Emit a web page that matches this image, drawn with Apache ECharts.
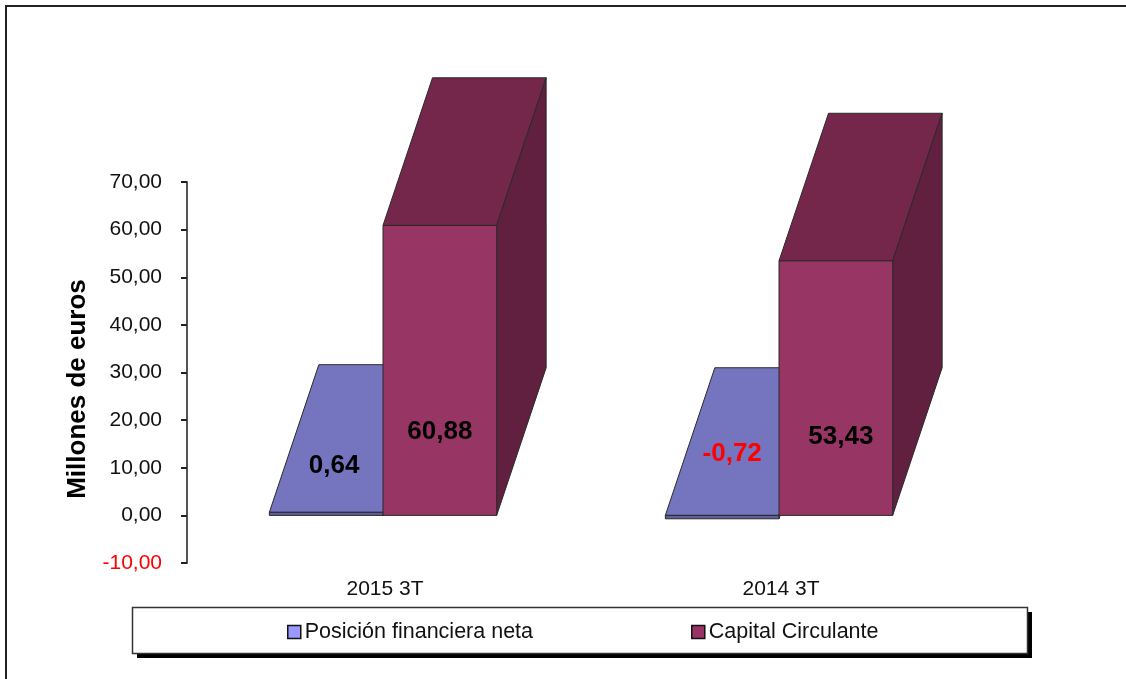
<!DOCTYPE html>
<html>
<head>
<meta charset="utf-8">
<title>Millones de euros</title>
<script src="https://cdn.jsdelivr.net/npm/echarts@6/dist/echarts.min.js"></script>
<style>
  html, body { margin: 0; padding: 0; background: #fff; }
  #chart { width: 1126px; height: 679px; }
</style>
</head>
<body>
<div id="chart"></div>
<script>
// datos
const categories = ["2015 3T", "2014 3T"];
const posicionNeta = [0.64, -0.72];
const capitalCirculante = [60.88, 53.43];
const seriesNames = ["Posición financiera neta", "Capital Circulante"];
const yTicks = { min: -10, max: 70, step: 10 };

// colores: frente, tapa, lateral
const bluePalette = { front: "#5F5F9F", top: "#7575BF", side: "#5C5C9E", legend: "#9999FF" };
const wine = { front: "#973564", top: "#74274B", side: "#61203F", legend: "#993366" };
const edge = "#2a2a2a";
const font = "'Liberation Sans', Arial, sans-serif";

// profundidad del efecto 3D
const depthX = 0.125; // fraccion de la banda
const depthY = 31; // en unidades del eje
const barFrac = 0.287;
const centerShift = -2;

// donde colocar las etiquetas (a mano, como en el original): altura en el eje y desplazamiento en px
const labelHeightBlue = [10.5, 13];
const labelHeightWine = [17.6, 16.4];
const labelShiftBlue = [8, 10];
const labelShiftWine = [0, 5];

function fmt(v) {
  return v.toFixed(2).replace(".", ",");
}

function bar3d(palette, side, heights, shifts) {
  return function (params, api) {
    const i = api.value(0);
    const v = api.value(1);
    const band = api.size([1, 0])[0];
    const w = band * barFrac;
    const c = api.coord([i, 0]);
    const x0 = c[0] + centerShift + (side < 0 ? -w : 0);
    const x1 = x0 + w;
    const zeroY = c[1];
    const valY = api.coord([i, v])[1];
    const topY = Math.min(zeroY, valY);
    const botY = Math.max(zeroY, valY);
    const dx = band * depthX;
    const dy = api.size([0, depthY])[1];
    const line = { stroke: edge, lineWidth: 1 };
    const labelPos = api.coord([i, heights[i]]);
    return {
      type: "group",
      children: [
        {
          type: "polygon",
          shape: { points: [[x0, topY], [x0 + dx, topY - dy], [x1 + dx, topY - dy], [x1, topY]] },
          style: Object.assign({ fill: palette.top }, line)
        },
        {
          type: "polygon",
          shape: { points: [[x1, topY], [x1 + dx, topY - dy], [x1 + dx, botY - dy], [x1, botY]] },
          style: Object.assign({ fill: palette.side }, line)
        },
        {
          type: "rect",
          shape: { x: x0, y: topY, width: w, height: botY - topY },
          style: Object.assign({ fill: palette.front }, line)
        },
        {
          type: "text",
          z2: 10,
          style: {
            x: x0 + w / 2 + shifts[i],
            y: labelPos[1],
            text: fmt(v),
            fill: v < 0 ? "#FF0000" : "#000",
            font: "bold 26px " + font,
            align: "center",
            verticalAlign: "middle"
          }
        }
      ]
    };
  };
}

const chart = echarts.init(document.getElementById("chart"));
chart.setOption({
  animation: false,
  backgroundColor: "#fff",
  textStyle: { fontFamily: font },
  graphic: [
    {
      type: "polyline",
      silent: true,
      shape: { points: [[6, 679], [6, 6], [1126, 6]] },
      style: { stroke: "#222", lineWidth: 2, fill: null }
    },
    // caja de la leyenda con su sombra
    {
      type: "rect",
      silent: true,
      shape: { x: 137, y: 612, width: 895, height: 46 },
      style: { fill: "#000" }
    },
    {
      type: "rect",
      silent: true,
      shape: { x: 132.5, y: 607.5, width: 895, height: 46 },
      style: { fill: "#fff", stroke: "#333", lineWidth: 1.5 }
    }
  ],
  legend: {
    left: 287,
    top: 621,
    icon: "rect",
    orient: "horizontal",
    itemWidth: 13,
    itemHeight: 13,
    itemGap: 158,
    padding: 0,
    textStyle: { fontFamily: font, fontSize: 21.5, color: "#111", padding: [0, 0, 0, -1] },
    data: [
      { name: seriesNames[0], itemStyle: { color: bluePalette.legend, borderColor: "#111", borderWidth: 1.5 } },
      { name: seriesNames[1], itemStyle: { color: wine.legend, borderColor: "#111", borderWidth: 1.5 } }
    ]
  },
  grid: { left: 187, top: 182, width: 792, height: 381 },
  xAxis: {
    type: "category",
    data: categories,
    axisLine: { show: false, onZero: false },
    axisTick: { show: false },
    axisLabel: { color: "#111", fontSize: 21, margin: 16, fontFamily: font }
  },
  yAxis: {
    type: "value",
    min: yTicks.min,
    max: yTicks.max,
    interval: yTicks.step,
    name: "Millones de euros",
    nameLocation: "middle",
    nameRotate: 90,
    nameGap: 96,
    nameTextStyle: { color: "#000", fontSize: 26, fontWeight: "bold", fontFamily: font, padding: [0, 33, 0, 0] },
    splitLine: { show: false },
    axisLine: { show: true, lineStyle: { color: "#555", width: 2 } },
    axisTick: { show: true, length: 6, lineStyle: { color: "#222", width: 2 } },
    axisLabel: {
      margin: 25,
      fontSize: 21,
      fontFamily: font,
      formatter: fmt,
      color: function (v) {
        return Number(v) < 0 ? "#FF0000" : "#111";
      }
    }
  },
  series: [
    {
      name: seriesNames[0],
      type: "custom",
      z: 2,
      clip: false,
      encode: { x: 0, y: 1 },
      itemStyle: { color: bluePalette.legend },
      renderItem: bar3d(bluePalette, -1, labelHeightBlue, labelShiftBlue),
      data: categories.map((c, i) => [i, posicionNeta[i]])
    },
    {
      name: seriesNames[1],
      type: "custom",
      z: 3,
      clip: false,
      encode: { x: 0, y: 1 },
      itemStyle: { color: wine.legend },
      renderItem: bar3d(wine, 1, labelHeightWine, labelShiftWine),
      data: categories.map((c, i) => [i, capitalCirculante[i]])
    }
  ]
});
</script>
</body>
</html>
